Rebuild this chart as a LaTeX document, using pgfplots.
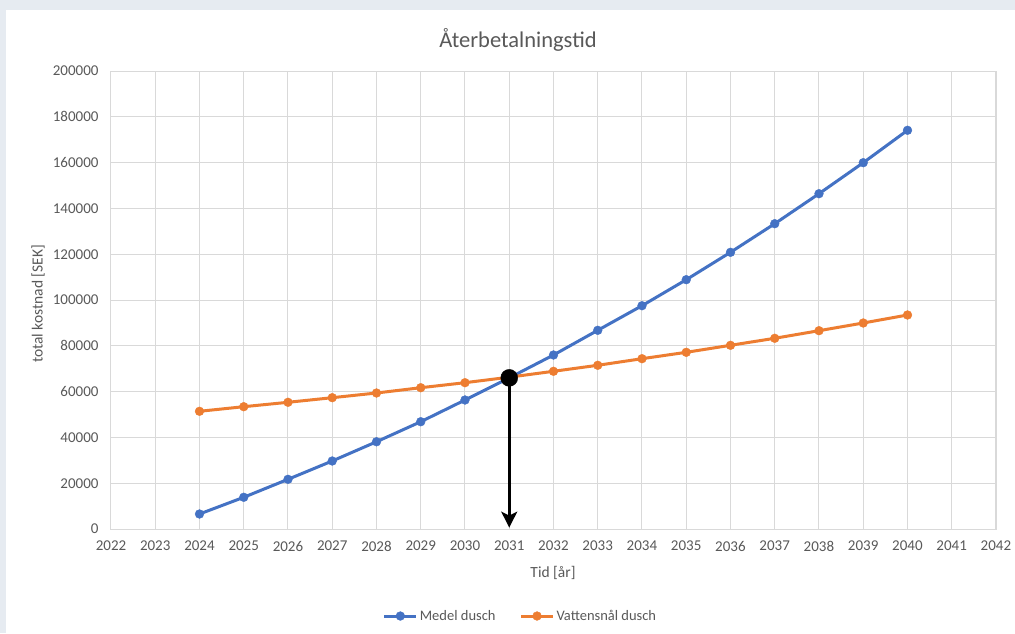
\documentclass[border=0pt]{standalone}
\usepackage{fontspec}
\setmainfont{Carlito}
\usepackage{pgfplots}
\pgfplotsset{compat=1.18}
\usetikzlibrary{arrows.meta}
\definecolor{bg}{HTML}{E6EBF1}
\definecolor{txt}{HTML}{595959}
\definecolor{gridc}{HTML}{D9D9D9}
\definecolor{xblue}{HTML}{4472C4}
\definecolor{xorange}{HTML}{ED7D31}
\begin{document}
\begin{tikzpicture}[x=1pt,y=1pt]
\fill[bg] (0,0) rectangle (1015,633);
\fill[white] (6,0) rectangle (1015,623);
\useasboundingbox (0,0) rectangle (1015,633);
\begin{axis}[
  at={(111pt,104pt)}, anchor=south west,
  scale only axis, width=885pt, height=458pt,
  xmin=2022, xmax=2042, ymin=0, ymax=200000,
  xtick={2022,...,2042}, ytick={0,20000,...,200000},
  scaled ticks=false,
  grid=major, major grid style={gridc, line width=1pt},
  axis line style={gridc, line width=1pt},
  major tick length=0pt,
  tick label style={font=\fontsize{15}{17}\selectfont, text=txt},
  /pgf/number format/assume math mode=true,
  /pgf/number format/fixed,
  /pgf/number format/precision=0,
  /pgf/number format/1000 sep={},
  xticklabel style={yshift=-8.5pt},
  yticklabel style={xshift=-9pt},
  legend columns=2,
  legend style={at={(axis description cs:0.4627,-0.19)}, anchor=center, draw=none, fill=none,
    font=\fontsize{14.5}{17}\selectfont, text=txt,
    /tikz/every even column/.append style={column sep=22pt}},
  legend image code/.code={\draw[mark repeat=2,mark phase=2] plot coordinates {(0pt,0pt)(16pt,0pt)(32pt,0pt)};},
]
\addplot[xblue, line width=3pt, mark=*, mark size=4.4pt, mark options={line width=0.4pt}] coordinates {
(2024,6550) (2025,13850) (2026,21700) (2027,29700) (2028,38100) (2029,46850) (2030,56330)
(2031,66000) (2032,75980) (2033,86770) (2034,97510) (2035,108870) (2036,120830) (2037,133320)
(2038,146420) (2039,159960) (2040,174110)};
\addlegendentry{Medel dusch}
\addplot[xorange, line width=3pt, mark=*, mark size=4.4pt, mark options={line width=0.4pt}] coordinates {
(2024,51400) (2025,53410) (2026,55330) (2027,57340) (2028,59390) (2029,61700) (2030,63890)
(2031,66300) (2032,68870) (2033,71490) (2034,74370) (2035,77160) (2036,80220) (2037,83280)
(2038,86600) (2039,89960) (2040,93450)};
\addlegendentry{Vattensnål dusch}
\addplot[black, line width=2.6pt, -{Stealth[length=16pt,width=16pt,inset=4pt]}, forget plot] coordinates {(2031,66000) (2031,600)};
\addplot[black, only marks, mark=*, mark size=8.5pt, forget plot] coordinates {(2031,66000)};
\end{axis}
\node[text=txt, font=\fontsize{22.5}{26}\selectfont] at (518,593) {Återbetalningstid};
\node[text=txt, font=\fontsize{15.5}{18}\selectfont, rotate=90] at (38,329) {total kostnad [SEK]};
\node[text=txt, font=\fontsize{15.5}{18}\selectfont] at (553,60) {Tid [år]};
\end{tikzpicture}
\end{document}
